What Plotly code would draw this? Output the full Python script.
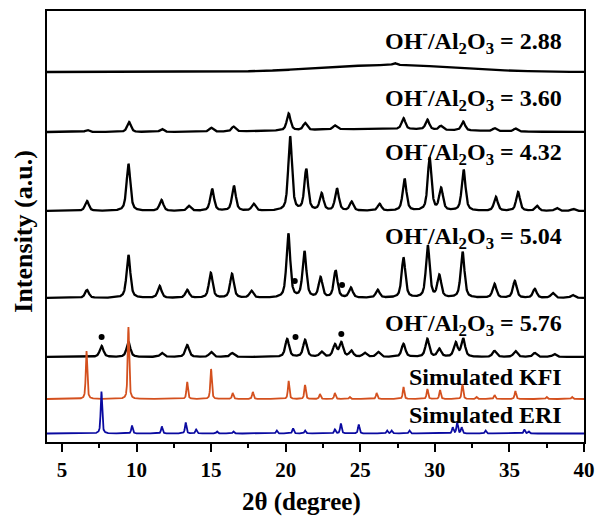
import numpy as np
import plotly.graph_objects as go

# ---------------- data ----------------
two_theta_min, two_theta_max = 4, 40

# peak positions (2theta, degree) and relative intensities (a.u.)
s288_pos = [27.3]
s288_int = [2]
s288_hump = (27.0, 4.5, 7.0)          # broad amorphous hump: centre, width, height

s360_pos = [6.7, 9.5, 11.7, 15.0, 16.5, 20.2, 21.3, 23.3, 27.9, 29.5, 30.4, 31.9, 34.0, 35.4]
s360_int = [2, 10, 3, 4, 5, 17, 7, 4, 11, 10, 4, 9, 3, 3]
s360_hump = (26.0, 5.0, 3.0)

s432_pos = [6.68, 9.46, 11.67, 13.51, 15.07, 16.53, 17.85, 20.30, 21.38, 22.41, 23.44, 24.42,
            26.29, 27.97, 29.65, 30.42, 31.93, 34.09, 35.58, 36.85, 38.17, 39.29]
s432_int = [10, 47, 11, 5, 22, 25, 7, 74, 41, 17, 22, 9, 7, 32, 53, 22, 41, 14, 19, 5, 3, 2]

s504_pos = [6.68, 9.46, 11.55, 13.4, 14.98, 16.4, 17.7, 20.18, 21.26, 22.34, 23.35, 24.37,
            26.17, 27.9, 29.53, 30.3, 31.86, 34.0, 35.36, 36.7, 37.9, 39.24]
s504_int = [8, 43, 12, 8, 25, 24, 7, 64, 46, 20, 27, 10, 8, 40, 52, 22, 46, 14, 17, 9, 5, 3]

s576_pos = [7.66, 9.46, 11.7, 13.4, 15.0, 16.4, 20.1, 21.3, 22.4, 23.3, 23.73, 24.4, 25.3,
            26.2, 27.9, 29.5, 30.3, 31.4, 31.9, 34.0, 35.4, 36.7, 38.0]
s576_int = [11, 15, 4, 12, 5, 4, 18, 17, 5, 12, 14, 6, 4, 5, 13, 18, 8, 14, 18, 6, 6, 4, 3]

kfi_pos = [6.65, 9.46, 13.4, 15.0, 16.45, 17.8, 20.2, 21.3, 22.3, 23.3, 24.3, 26.1, 27.9,
           29.5, 30.35, 31.85, 32.8, 34.0, 35.4, 37.5, 39.2]
kfi_int = [48, 72, 17, 30, 6, 7, 18, 14, 5, 6, 2, 6, 12, 10, 9, 15, 2, 4, 8, 2, 2]

eri_pos = [7.65, 9.7, 11.7, 13.3, 14.0, 15.4, 16.5, 19.4, 20.5, 21.3, 23.3, 23.7, 24.9,
           26.8, 27.1, 28.3, 31.2, 31.5, 31.8, 33.4, 36.0, 36.3]
eri_int = [42, 8, 7, 11, 4, 2, 2, 3, 5, 3, 4, 10, 9, 3, 3, 3, 6, 11, 6, 3, 4, 2]

# impurity markers (position, height above that pattern's baseline)
dots_504_pos = [20.61, 23.78]
dots_504_int = [17, 13]
dots_576_pos = [7.66, 20.66, 23.73]
dots_576_int = [20, 20, 23]

labels = ["OH<sup>-</sup>/Al<sub>2</sub>O<sub>3</sub> = 2.88",
          "OH<sup>-</sup>/Al<sub>2</sub>O<sub>3</sub> = 3.60",
          "OH<sup>-</sup>/Al<sub>2</sub>O<sub>3</sub> = 4.32",
          "OH<sup>-</sup>/Al<sub>2</sub>O<sub>3</sub> = 5.04",
          "OH<sup>-</sup>/Al<sub>2</sub>O<sub>3</sub> = 5.76",
          "Simulated KFI",
          "Simulated ERI"]

# ---------------- layout / style constants ----------------
offsets = [370, 310, 231, 144, 85, 43, 8.5]          # vertical stacking
label_y = [401, 344, 290, 206, 119, 65, 27]            # label centres (same units)
colors = ["black"] * 5 + ["#D4501E", "#0A0AA0"]
widths_peak = [0.15] * 5 + [0.06, 0.06]
FONT = "Liberation Serif"

x = np.linspace(two_theta_min, two_theta_max, 3601)


def profile(pos, inten, w, hump=None):
    y = np.zeros_like(x)
    for p, h in zip(pos, inten):
        y += h * (0.6 / (1 + ((x - p) / w) ** 2) + 0.4 * np.exp(-np.log(2) * ((x - p) / w) ** 2))
    if hump is not None:
        c, s, h = hump
        y += h * np.exp(-0.5 * ((x - c) / s) ** 2)
    return y


patterns = [
    (s288_pos, s288_int, s288_hump),
    (s360_pos, s360_int, s360_hump),
    (s432_pos, s432_int, None),
    (s504_pos, s504_int, None),
    (s576_pos, s576_int, None),
    (kfi_pos, kfi_int, None),
    (eri_pos, eri_int, None),
]

fig = go.Figure()
for i, (pos, inten, hump) in enumerate(patterns):
    y = profile(pos, inten, widths_peak[i], hump) + offsets[i]
    fig.add_trace(go.Scatter(x=x, y=y, mode="lines",
                             line=dict(color=colors[i], width=2.3 if i < 5 else 1.8),
                             showlegend=False, hoverinfo="skip"))

for dpos, dint, off in [(dots_504_pos, dots_504_int, offsets[3]),
                        (dots_576_pos, dots_576_int, offsets[4])]:
    fig.add_trace(go.Scatter(x=dpos, y=[v + off for v in dint], mode="markers",
                             marker=dict(color="black", size=6),
                             showlegend=False, hoverinfo="skip"))

annotations = []
for txt, ly in zip(labels, label_y):
    annotations.append(dict(text=txt, x=0.963, xref="paper", xanchor="right",
                            y=ly, yref="y", yanchor="middle", showarrow=False,
                            font=dict(family=FONT, size=24, color="black", weight="bold")))

annotations.append(dict(text="2θ (degree)", x=0.473, xref="paper", xanchor="center",
                        y=-0.14, yref="paper", yanchor="middle", showarrow=False,
                        font=dict(family=FONT, size=25, color="black", weight="bold")))
annotations.append(dict(text="Intensity (a.u.)", x=-0.043, xref="paper", xanchor="center",
                        y=0.49, yref="paper", yanchor="middle", showarrow=False,
                        textangle=-90,
                        font=dict(family=FONT, size=26, color="black", weight="bold")))

fig.update_layout(
    width=597, height=517,
    margin=dict(l=47, r=13, t=11, b=75, autoexpand=False),
    paper_bgcolor="white", plot_bgcolor="white",
    annotations=annotations,
    xaxis=dict(range=[two_theta_min, two_theta_max], tick0=5, dtick=5,
               automargin=False,
               ticks="outside", ticklen=8, tickwidth=2, tickcolor="black",
               minor=dict(dtick=2.5, tick0=5, ticks="outside", ticklen=4, tickwidth=2,
                          tickcolor="black"),
               showline=True, linewidth=2, linecolor="black", mirror=True,
               showgrid=False, zeroline=False,
               tickfont=dict(family=FONT, size=21, color="black", weight="bold")),
    yaxis=dict(range=[0, 431], showticklabels=False, ticks="", automargin=False,
               showline=True, linewidth=2, linecolor="black", mirror=True,
               showgrid=False, zeroline=False),
)

fig.write_html("out.html")
